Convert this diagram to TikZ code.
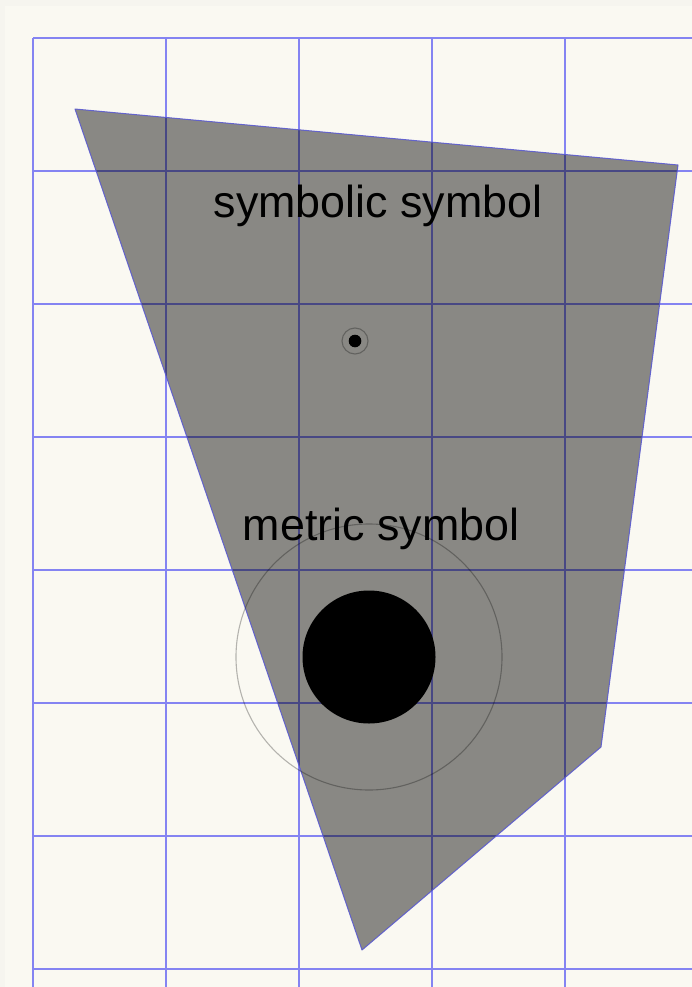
\documentclass[tikz,border=0pt]{standalone}
\usepackage{fontspec}
\setmainfont{Liberation Sans}
\definecolor{paper}{HTML}{FAF9F2}
\definecolor{edge}{HTML}{F6F5EF}
\definecolor{gridblue}{HTML}{8484F2}
\definecolor{polyline}{HTML}{5A5AD0}
\tikzset{
  gridline/.style={draw=gridblue, line width=1.4pt},
  region/.style={fill=black, fill opacity=0.45, draw=polyline, draw opacity=0.9, line width=1pt, line join=round},
  halo/.style={draw=black, draw opacity=0.28, line width=1.1pt},
  dot/.style={fill=black},
  label/.style={font=\fontsize{44.8}{50}\selectfont, text=black, inner sep=0pt, anchor=base}
}
\begin{document}
\begin{tikzpicture}[x=1pt,y=-1pt]
\useasboundingbox (0,0) rectangle (692,987);
\fill[edge] (0,0) rectangle (692,987);
\fill[paper] (5,6) rectangle (692,987);
% grid
\foreach \gx in {33,166,299,432,565}
  \draw[gridline] (\gx,38) -- (\gx,987);
\foreach \gy in {38,171,304,437,570,703,836,969}
  \draw[gridline] (33,\gy) -- (692,\gy);
% polygon
\coordinate (p1) at (75,109);
\coordinate (p2) at (678,165);
\coordinate (p3) at (601,747);
\coordinate (p4) at (362,950);
\path[region] (p1) -- (p2) -- (p3) -- (p4) -- cycle;
% symbols
\coordinate (s) at (355,341);
\coordinate (m) at (369,657);
\draw[halo] (s) circle[radius=13];
\fill[dot] (s) circle[radius=6.3];
\draw[halo] (m) circle[radius=133];
\fill[dot] (m) circle[radius=66.5];
% texts
\node[label] (t1) at (378,217) {symbolic symbol};
\node[label] (t2) at (381,540) {metric symbol};
\end{tikzpicture}
\end{document}
